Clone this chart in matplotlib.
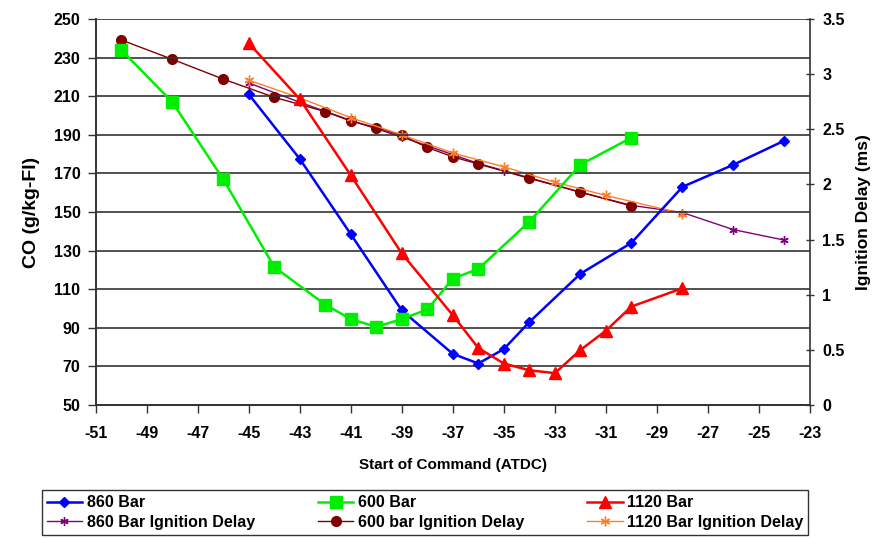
import numpy as np
import matplotlib.pyplot as plt

plt.rcParams['font.family'] = ['Liberation Sans', 'DejaVu Sans']
plt.rcParams['font.weight'] = 'bold'
plt.rcParams['axes.labelweight'] = 'bold'
plt.rcParams['axes.unicode_minus'] = False

# CO emissions vs start of command
soc_860 = [-45, -43, -41, -39, -37, -36, -35, -34, -32, -30, -28, -26, -24]
co_860 = [211, 177.5, 138.5, 99, 76.5, 71.5, 79, 93, 118, 134, 163, 174.5, 187]

soc_600 = [-50, -48, -46, -44, -42, -41, -40, -39, -38, -37, -36, -34, -32, -30]
co_600 = [234, 207, 167, 121.5, 102, 94.5, 90.5, 94.5, 99.5, 115.5, 120.5, 145, 174.5, 188.5]

soc_1120 = [-45, -43, -41, -39, -37, -36, -35, -34, -33, -32, -31, -30, -28]
co_1120 = [237.5, 208.5, 169, 128.5, 96.5, 79.5, 71.5, 68, 66.5, 78.5, 88.5, 101, 110.5]

# ignition delay (ms)
soc_d860 = [-45, -43, -41, -39, -37, -36, -35, -34, -32, -30, -28, -26, -24]
delay_860 = [2.92, 2.745, 2.58, 2.43, 2.27, 2.19, 2.125, 2.06, 1.93, 1.81, 1.745, 1.59, 1.495]

soc_d600 = [-50, -48, -46, -44, -42, -41, -40, -39, -38, -37, -36, -34, -32, -30]
delay_600 = [3.31, 3.135, 2.955, 2.79, 2.66, 2.575, 2.515, 2.445, 2.335, 2.25, 2.185, 2.055, 1.93, 1.805]

soc_d1120 = [-45, -43, -41, -39, -37, -35, -33, -31, -28]
delay_1120 = [2.945, 2.785, 2.605, 2.45, 2.285, 2.16, 2.02, 1.9, 1.735]

fig = plt.figure(figsize=(8.73, 5.38), dpi=100)
ax = fig.add_axes([0.1096, 0.2472, 0.8182, 0.7175])
ax2 = ax.twinx()

h860, = ax.plot(soc_860, co_860, color='#0000ff', lw=1.8, marker='D', ms=5.5,
                label='860 Bar', zorder=3)
h600, = ax.plot(soc_600, co_600, color='#00ee00', lw=1.8, marker='s', ms=9,
                label='600 Bar', zorder=3)
h1120, = ax.plot(soc_1120, co_1120, color='#ff0000', lw=1.8, marker='^', ms=8,
                 label='1120 Bar', zorder=3)

hd860, = ax2.plot(soc_d860, delay_860, color='#800080', lw=1.0, marker=(6, 2, 0), ms=6,
                  mew=1.0, label='860 Bar Ignition Delay')
hd600, = ax2.plot(soc_d600, delay_600, color='#800000', lw=1.0, marker='o', ms=7,
                  label='600 bar Ignition Delay')
hd1120, = ax2.plot(soc_d1120, delay_1120, color='#ff7f27', lw=1.0, marker=(6, 2, 0), ms=7,
                   mew=1.0, label='1120 Bar Ignition Delay')

ax.set_xlim(-51, -23)
ax.set_ylim(50, 250)
ax2.set_ylim(0, 3.5)
ax.set_xticks(np.arange(-51, -22, 2))
ax.set_yticks(np.arange(50, 251, 20))
ax2.set_yticks(np.arange(0, 3.51, 0.5))
ax2.set_yticklabels(['0', '0.5', '1', '1.5', '2', '2.5', '3', '3.5'])

ax.grid(axis='y', color='#333333', lw=1.2)
ax.set_axisbelow(True)
# draw lines of the twin axes above the left axes' grid
ax.set_zorder(ax2.get_zorder() + 1)
ax.patch.set_visible(False)

for a in (ax, ax2):
    for s in a.spines.values():
        s.set_color('#333333')
        s.set_linewidth(1.2)
ax.spines['top'].set_visible(False)
ax2.spines['top'].set_visible(False)
ax.spines['right'].set_visible(False)

ax.tick_params(axis='both', labelsize=11.5, length=6, width=1.0, color='#333333')
ax.tick_params(axis='x', pad=9)
ax.tick_params(axis='y', pad=5)
ax2.tick_params(axis='y', labelsize=11.5, length=6, width=1.0, color='#333333',
                direction='inout', pad=6)

ax.set_xlabel('Start of Command (ATDC)', fontsize=11, labelpad=12)
ax.set_ylabel('CO (g/kg-FI)', fontsize=14, labelpad=10)
ax2.set_ylabel('Ignition Delay (ms)', fontsize=12.5, labelpad=8)

handles = [h860, hd860, h600, hd600, h1120, hd1120]
leg = fig.legend(handles=handles, labels=[h.get_label() for h in handles],
                 ncol=3, loc='lower left', bbox_to_anchor=(0.048, 0.006, 0.878, 0.098),
                 mode='expand', fontsize=11.5, frameon=True, fancybox=False,
                 handlelength=2.2, handletextpad=0.3, borderpad=0.3, labelspacing=0.3,
                 borderaxespad=0)
leg.get_frame().set_edgecolor('black')
leg.get_frame().set_linewidth(1.0)

fig.savefig('out.png', dpi=100)
